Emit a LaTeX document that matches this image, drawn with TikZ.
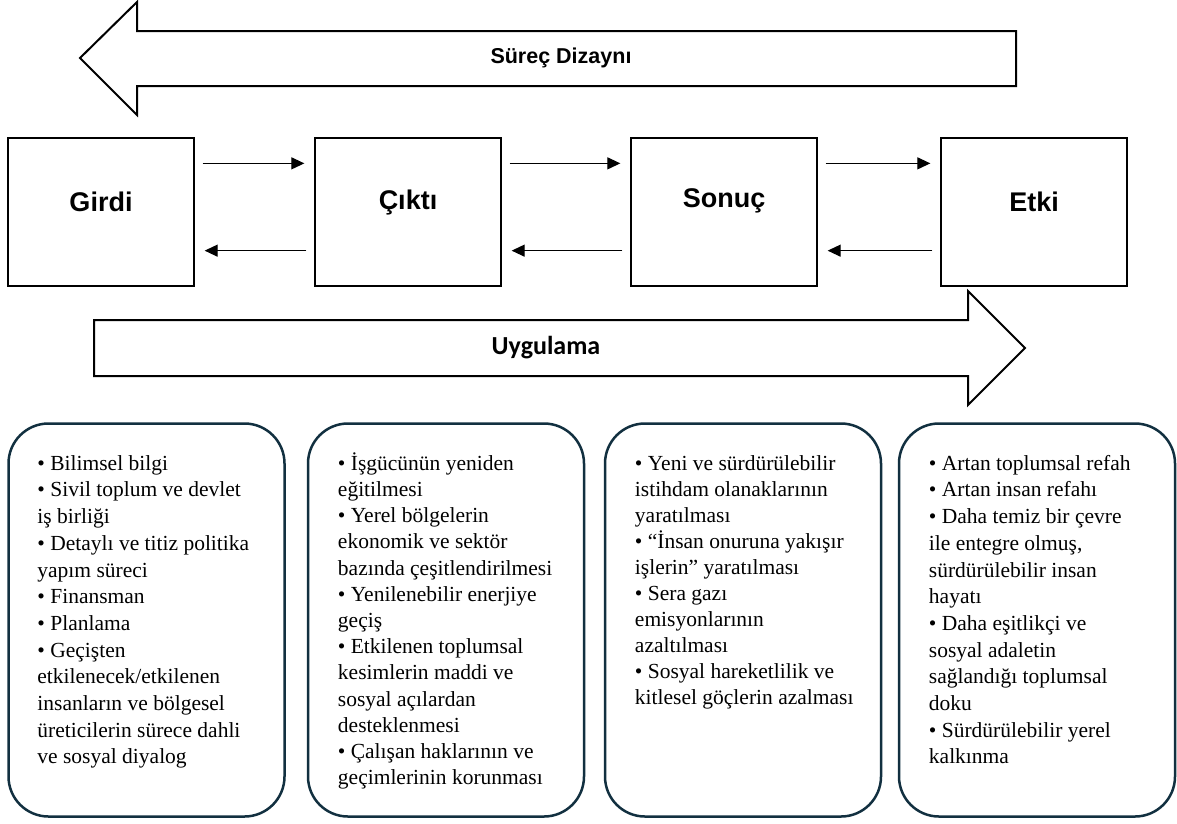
\documentclass[tikz,border=0pt]{standalone}
\usepackage{fontspec}
\setmainfont{Liberation Serif}
\newfontfamily\labelfont{Liberation Sans}
\newfontfamily\bandfont{Carlito}
\usetikzlibrary{arrows.meta}
\definecolor{boxnavy}{RGB}{18,48,64}
\tikzset{x=1pt,y=-1pt,
         stage/.style={draw,line width=1.3pt,minimum width=186pt,minimum height=148pt},
         stagetxt/.style={font=\labelfont\bfseries\fontsize{27}{30}\selectfont,anchor=base,inner sep=0pt},
         flow/.style={line width=1.2pt,-{Triangle[length=13pt,width=12pt]}},
         band/.style={draw,line width=2pt,line join=miter},
         infobox/.style={draw=boxnavy,line width=2.5pt,rounded corners=40pt,minimum width=276pt,minimum height=393pt},
         infotxt/.style={font=\fontsize{21.5}{#1}\selectfont,align=left,anchor=north west,inner sep=0pt},
         infotxt/.default=26.5}
\newcommand{\toprow}{\vphantom{İ}}
\begin{document}
\begin{tikzpicture}
\useasboundingbox (0,0) rectangle (1177,823);
% bands
\draw[band] (1016,31) -- (137,31) -- (137,2) -- (80,58) -- (137,115) -- (137,86) -- (1016,86) -- cycle;
\node[font=\labelfont\bfseries\fontsize{21.5}{24}\selectfont] (surec) at (561,58) {Süreç Dizaynı};
\draw[band] (94,320) -- (968,320) -- (968,291) -- (1025,348) -- (968,405) -- (968,376) -- (94,376) -- cycle;
\node[font=\bandfont\bfseries\fontsize{26}{28}\selectfont] (uygulama) at (546,348) {Uygulama};
% stages
\node[stage] (girdi) at (101,212) {};
\node[stage] (cikti) at (408,212) {};
\node[stage] (sonuc) at (724,212) {};
\node[stage] (etki) at (1034,212) {};
\node[stagetxt] (girdi-t) at (101,211) {Girdi};
\node[stagetxt] (cikti-t) at (408,209) {Çıktı};
\node[stagetxt] (sonuc-t) at (724,207) {Sonuç};
\node[stagetxt] (etki-t) at (1034,211) {Etki};
\foreach \a/\b in {girdi/cikti,cikti/sonuc,sonuc/etki}{
  \draw[flow] ([shift={(8,26)}]\a.north east) -- ([shift={(-10,26)}]\b.north west);
  \draw[flow] ([shift={(-8,-36)}]\b.south west) -- ([shift={(10,-36)}]\a.south east);
}
% lists
\node[infobox] (b1) at (146.5,620) {};
\node[infobox] (b2) at (446,620) {};
\node[infobox] (b3) at (743,620) {};
\node[infobox] (b4) at (1037,620) {};
\node[infotxt=26.7] (l1) at ([shift={(30,30)}]b1.north west) {\toprow• Bilimsel bilgi\\• Sivil toplum ve devlet\\iş birliği\\• Detaylı ve titiz politika\\yapım süreci\\• Finansman\\• Planlama\\• Geçişten\\etkilenecek/etkilenen\\insanların ve bölgesel\\üreticilerin sürece dahli\\ve sosyal diyalog};
\node[infotxt=26.2] (l2) at ([shift={(31,30)}]b2.north west) {\toprow• İşgücünün yeniden\\eğitilmesi\\• Yerel bölgelerin\\ekonomik ve sektör\\bazında çeşitlendirilmesi\\• Yenilenebilir enerjiye\\geçiş\\• Etkilenen toplumsal\\kesimlerin maddi ve\\sosyal açılardan\\desteklenmesi\\• Çalışan haklarının ve\\geçimlerinin korunması};
\node[infotxt=26] (l3) at ([shift={(31,30)}]b3.north west) {\toprow• Yeni ve sürdürülebilir\\istihdam olanaklarının\\yaratılması\\• “İnsan onuruna yakışır\\işlerin” yaratılması\\• Sera gazı\\emisyonlarının\\azaltılması\\• Sosyal hareketlilik ve\\kitlesel göçlerin azalması};
\node[infotxt=26.7] (l4) at ([shift={(31,30)}]b4.north west) {\toprow• Artan toplumsal refah\\• Artan insan refahı\\• Daha temiz bir çevre\\ile entegre olmuş,\\sürdürülebilir insan\\hayatı\\• Daha eşitlikçi ve\\sosyal adaletin\\sağlandığı toplumsal\\doku\\• Sürdürülebilir yerel\\kalkınma};
\end{tikzpicture}
\end{document}
